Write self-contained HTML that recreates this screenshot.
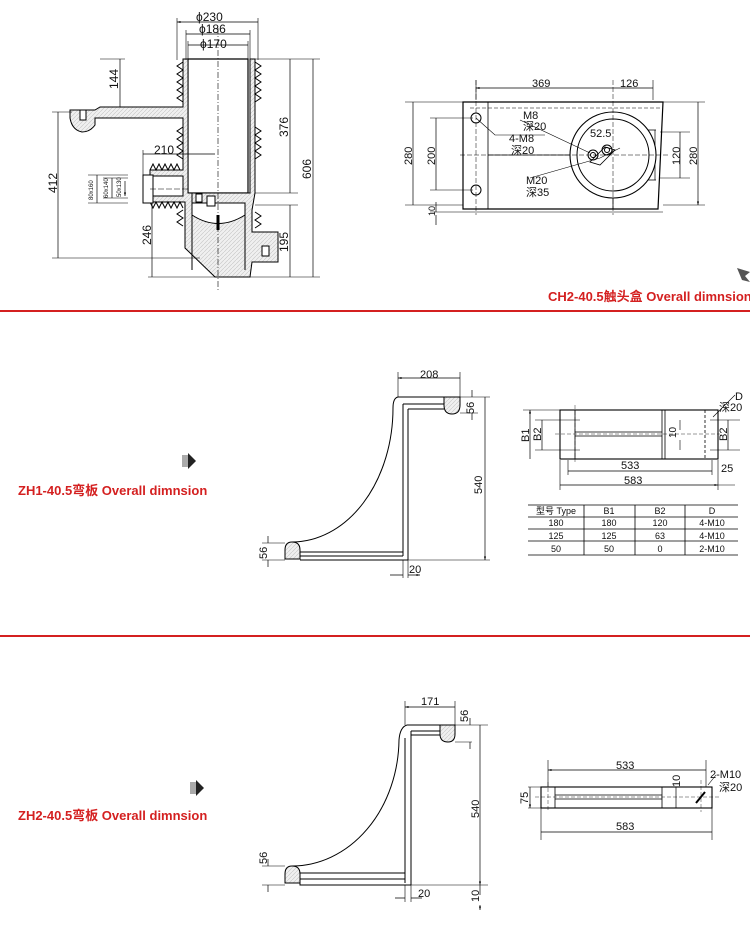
<!DOCTYPE html><html><head><meta charset="utf-8"><style>body{margin:0;background:#fff}svg{display:block}text{font-family:"Liberation Sans","Noto Sans CJK SC",sans-serif;fill:#111}</style></head><body>
<svg width="750" height="945" viewBox="0 0 750 945" xmlns="http://www.w3.org/2000/svg">
<defs>
<marker id="a" viewBox="0 0 10 10" refX="10" refY="5" markerWidth="7" markerHeight="5" orient="auto-start-reverse"><path d="M0,2L10,5L0,8z" fill="#000"/></marker>
<pattern id="h" width="4" height="4" patternUnits="userSpaceOnUse"><rect width="4" height="4" fill="#f0f0f0"/><path d="M0,4L4,0" stroke="#c4c4c4" stroke-width=".6"/></pattern>
</defs>
<g stroke="#000" stroke-width="1" fill="none">
<path d="M188,59 L248,59 L248,193 L188,193Z" fill="#fff" stroke-width="1.2"/>
<path d="M183,59 L188,59 L188,193 L250,193 L250,59 L255,59 L255,193 L252,210 L252,232 L278,232 L278,262 L252,262 L250,277 L215,277 L185,248 L185,202 L150,202 L150,196 L183,196 L183,176 L150,176 L150,170 L183,170 L183,118 L95,118 L95,125 Q90,132 82,132 Q72,130 70,118 L70,110 L95,110 L100,107 L183,107Z" fill="url(#h)" stroke-width="1"/>
<path d="M192,203 L245,203 L245,215 Q218,232 192,215Z" fill="#fff"/>
<path d="M192,193 L192,270 M245,207 L245,270"/>
<path d="M183,62 l-6,4 6,4 -6,4 6,4 -6,4 6,4 -6,4 6,4 -6,4 6,4 M183,127 l-6,4 6,4 -6,4 6,4 -6,4 6,4 -6,4 6,4 M183,210 l-6,4 6,4 -6,4 6,4"/>
<path d="M255,62 l6,4 -6,4 6,4 -6,4 6,4 -6,4 6,4 -6,4 6,4 -6,4 M255,127 l6,4 -6,4 6,4 -6,4 6,4 -6,4 6,4 -6,4 M255,212 l6,4 -6,4 6,4 -6,4"/>
<path d="M150,170 l3,-6 3,6 3,-6 3,6 3,-6 3,6 3,-6 3,6 3,-6 3,6 M150,202 l3,6 3,-6 3,6 3,-6 3,6 3,-6 3,6 3,-6 3,6 3,-6 3,6"/>
<rect x="143" y="175" width="10" height="28" fill="#fff"/>
<rect x="80" y="110" width="6" height="10" fill="#fff"/><rect x="207" y="196" width="8" height="10" fill="#fff"/><rect x="262" y="246" width="7" height="10" fill="#fff"/><rect x="196" y="194" width="6" height="8" fill="#fff"/>
<path d="M218,215 v15" stroke-width="3"/>
<path d="M218,28 V290" stroke-dasharray="6,2,1,2" stroke-width=".6"/>
<path d="M150,189 H190" stroke-dasharray="6,2" stroke-width=".6"/>
<g stroke-width=".6"><path d="M177,18 V60 M258,18 V60 M186,30 V60 M250,30 V60 M188,41 V60 M248,41 V60 M255,59 H320 M100,59 H125 M100,107 H125 M52,112 H72 M52,258 H200 M255,193 H298 M255,205 H298 M148,277 H320 M143,150 V175 M88,175 H128 M88,203 H128 M103,178 H128 M103,198 H128"/></g>
<g stroke-width=".7" marker-start="url(#a)" marker-end="url(#a)"><path d="M177,22 H258 M186,34 H250 M188,45 H248 M120,59 V107 M58,112 V258 M152,203 V277 M290,59 V193 M290,205 V277 M313,59 V277 M143,154 H215 M97,175 V203 M112,178 V198 M125,181 V196"/></g>
</g>
<g font-size="12"><text x="196" y="21">ϕ230</text><text x="199" y="33">ϕ186</text><text x="200" y="48">ϕ170</text><text x="154" y="154">210</text>
<text transform="translate(118,89) rotate(-90)">144</text><text transform="translate(57,193) rotate(-90)">412</text><text transform="translate(151,245) rotate(-90)">246</text><text transform="translate(288,137) rotate(-90)">376</text><text transform="translate(288,252) rotate(-90)">195</text><text transform="translate(311,179) rotate(-90)">606</text></g>
<g font-size="6"><text transform="translate(93,200) rotate(-90)">80x160</text><text transform="translate(108,198) rotate(-90)">60x140</text><text transform="translate(121,197) rotate(-90)">50x130</text></g>
<g stroke="#000" fill="none">
<path d="M463,102 H663 L658,209 H463Z" stroke-width="1.2"/>
<path d="M488,102 V209 M488,155 H570 M613,190 V209" stroke-width=".8"/>
<path d="M470,108 H660" stroke-dasharray="4,2" stroke-width=".6"/>
<path d="M656,130 H620 M656,180 H620 M655,130 V180" stroke-width=".7"/>
<circle cx="613" cy="155" r="43" fill="#fff" stroke-width="1.1"/><circle cx="613" cy="155" r="36" stroke-width="1"/>
<path d="M590,162 L605,147 L615,150 L600,165Z" stroke-width=".8"/>
<circle cx="593" cy="155" r="5"/><circle cx="593" cy="155" r="2.5"/><circle cx="607" cy="150" r="5"/><circle cx="607" cy="150" r="2.5"/>
<circle cx="476" cy="118" r="5"/><circle cx="476" cy="190" r="5"/>
<path d="M476,80 V215 M613,80 V215 M460,155 H670" stroke-dasharray="5,2" stroke-width=".5"/>
<g stroke-width=".6"><path d="M405,102 H463 M430,118 H473 M430,190 H473 M405,205 H463 M430,212 H663 M653,80 V100 M476,80 V100 M660,132 H690 M660,178 H690 M663,102 H705 M663,205 H705 M520,120 L590,153 M476,118 L495,135 H545 M530,178 L600,158 L620,148"/></g>
<g stroke-width=".7" marker-start="url(#a)" marker-end="url(#a)"><path d="M476,88 H608 M608,88 H653 M413,102 V205 M436,118 V190 M680,132 V178 M698,102 V205"/></g>
<path d="M436,202 V212 M436,215 V225" stroke-width=".7"/>
</g>
<g font-size="11"><text x="532" y="87">369</text><text x="620" y="87">126</text><text x="523" y="119">M8</text><text x="523" y="130">深20</text><text x="509" y="142">4-M8</text><text x="511" y="154">深20</text><text x="590" y="137">52.5</text><text x="526" y="184">M20</text><text x="526" y="196">深35</text>
<text transform="translate(412,165) rotate(-90)">280</text><text transform="translate(435,165) rotate(-90)">200</text><text transform="translate(435,216) rotate(-90)" font-size="9">10</text><text transform="translate(680,165) rotate(-90)">120</text><text transform="translate(697,165) rotate(-90)">280</text></g>
<text x="548" y="301" font-size="13" font-weight="bold" style="fill:#d42020">CH2-40.5触头盒 Overall dimnsion</text>
<path d="M737,268 L750,272 L745,276 L750,282 L742,280 Z" fill="#555"/>
<rect x="0" y="310" width="750" height="2" fill="#d42020"/>
<path d="M188,453 L196,461 L188,469Z" fill="#222"/><rect x="182" y="455" width="6" height="12" fill="#aaa"/>
<text x="18" y="495" font-size="13" font-weight="bold" style="fill:#d42020">ZH1-40.5弯板 Overall dimnsion</text>
<g stroke="#000" fill="none">
<path d="M444,397 H460 V405 Q460,414 452,414 Q444,414 444,405Z" fill="url(#h)"/>
<path d="M285,559 V550 Q285,542 292,542 Q300,542 300,550 V559Z" fill="url(#h)"/>
<path d="M398,397 H444 M403,404 H444 M408,409 H444 M403,404 V556 M408,409 V560 M300,552 H403 M300,556 H403 M300,560 H408" stroke-width="1"/>
<path d="M398,397 Q393,398 393,408 A101,134 0 0 1 292,542"/>
<g stroke-width=".6"><path d="M398,372 V397 M460,372 V397 M460,397 H490 M460,413 H478 M300,560 H490 M262,543 H285 M262,560 H285 M403,560 V578 M408,560 V578"/></g>
<g stroke-width=".7" marker-start="url(#a)" marker-end="url(#a)"><path d="M398,378 H460 M485,397 V560"/></g>
<path d="M472,397 V390 M472,413 V420 M268,543 V536 M268,560 V567 M390,575 H403 M408,575 H420" stroke-width=".7" marker-end="url(#a)"/>
<rect x="560" y="410" width="158" height="49" stroke-width="1.1"/>
<path d="M575,410 V459 M662,410 V459 M665,410 V459 M575,432 H662 M575,436 H662" stroke-width=".8"/>
<path d="M705,410 V459" stroke-dasharray="3,2" stroke-width=".8"/>
<path d="M575,405 V462 M555,434 H720" stroke-dasharray="4,2" stroke-width=".4"/>
<g stroke-width=".6"><path d="M523,410 H560 M535,420 H580 M535,450 H580 M710,420 H740 M710,450 H740 M560,460 V490 M718,460 V490 M568,460 V475 M712,460 V475 M718,485 H735 M713,417 L735,395"/></g>
<g stroke-width=".7" marker-start="url(#a)" marker-end="url(#a)"><path d="M530,410 V459 M542,420 V450 M728,420 V450 M568,471 H712 M560,485 H718"/></g>
<path d="M680,420 V430 M680,440 V450" stroke-width=".6"/>
<path d="M528,505 H738 M528,517 H738 M528,529 H738 M528,541 H738 M528,555 H738" stroke-width=".8"/>
<path d="M584,505 V555 M635,505 V555 M685,505 V555" stroke-width=".8"/>
</g>
<g font-size="11"><text x="420" y="378">208</text><text transform="translate(482,494) rotate(-90)">540</text><text transform="translate(474,414) rotate(-90)">56</text><text transform="translate(267,559) rotate(-90)">56</text><text x="409" y="573">20</text>
<text x="621" y="469">533</text><text x="624" y="484">583</text><text transform="translate(529,442) rotate(-90)">B1</text><text transform="translate(541,441) rotate(-90)">B2</text><text transform="translate(727,441) rotate(-90)">B2</text><text transform="translate(676,438) rotate(-90)" font-size="10">10</text><text x="735" y="400">D</text><text x="719" y="411">深20</text><text x="721" y="472">25</text></g>
<g font-size="9" text-anchor="middle"><text x="556" y="514">型号 Type</text><text x="609" y="514">B1</text><text x="660" y="514">B2</text><text x="712" y="514">D</text><text x="556" y="526">180</text><text x="609" y="526">180</text><text x="660" y="526">120</text><text x="712" y="526">4-M10</text><text x="556" y="539">125</text><text x="609" y="539">125</text><text x="660" y="539">63</text><text x="712" y="539">4-M10</text><text x="556" y="552">50</text><text x="609" y="552">50</text><text x="660" y="552">0</text><text x="712" y="552">2-M10</text></g>
<rect x="0" y="635" width="750" height="2" fill="#d42020"/>
<path d="M196,780 L204,788 L196,796Z" fill="#222"/><rect x="190" y="782" width="6" height="12" fill="#aaa"/>
<text x="18" y="820" font-size="13" font-weight="bold" style="fill:#d42020">ZH2-40.5弯板 Overall dimnsion</text>
<g stroke="#000" fill="none">
<path d="M440,725 H455 V734 Q455,742 448,742 Q440,742 440,734Z" fill="url(#h)"/>
<path d="M285,883 V874 Q285,866 292,866 Q300,866 300,874 V883Z" fill="url(#h)"/>
<path d="M407,725 H440 M411,731 H440 M411,735 H440 M405,885 H411 M411,731 V885 M405,738 V883 M300,873 H405 M300,879 H405 M300,883 V885 H411"/>
<path d="M407,725 Q400,727 399,740 A107,128 0 0 1 292,866"/>
<g stroke-width=".6"><path d="M405,701 V725 M455,701 V725 M455,725 H488 M455,742 H472 M300,885 H488 M262,866 H285 M262,885 H285 M405,885 V902 M411,885 V902"/></g>
<g stroke-width=".7" marker-start="url(#a)" marker-end="url(#a)"><path d="M405,707 H455 M480,725 V885"/></g>
<path d="M470,725 V718 M470,742 V749 M268,866 V859 M268,885 V892 M395,898 H405 M411,898 H422 M480,895 V885 M480,905 V910" stroke-width=".7" marker-end="url(#a)"/>
<rect x="541" y="787" width="171" height="21" stroke-width="1.1"/>
<path d="M555,787 V808 M662,787 V808 M555,795 H662 M555,799 H662" stroke-width=".8"/>
<path d="M548,782 V812 M535,797 H720 M701,780 V812" stroke-dasharray="4,2" stroke-width=".4"/>
<path d="M696,803 L705,792" stroke-width="2"/>
<g stroke-width=".6"><path d="M548,760 V787 M706,760 V787 M541,808 V840 M712,808 V840 M528,787 H541 M528,808 H541 M708,785 L716,775"/></g>
<g stroke-width=".7" marker-start="url(#a)" marker-end="url(#a)"><path d="M548,770 H706 M541,832 H712 M530,787 V808"/></g>
<path d="M676,787 V808" stroke-width=".7"/>
</g>
<g font-size="11"><text x="421" y="705">171</text><text transform="translate(479,818) rotate(-90)">540</text><text transform="translate(468,722) rotate(-90)">56</text><text transform="translate(267,864) rotate(-90)">56</text><text x="418" y="897">20</text><text transform="translate(479,902) rotate(-90)">10</text>
<text x="616" y="769">533</text><text x="616" y="830">583</text><text transform="translate(528,804) rotate(-90)">75</text><text transform="translate(680,787) rotate(-90)">10</text><text x="710" y="778">2-M10</text><text x="719" y="791">深20</text></g>
</svg>
</body></html>
